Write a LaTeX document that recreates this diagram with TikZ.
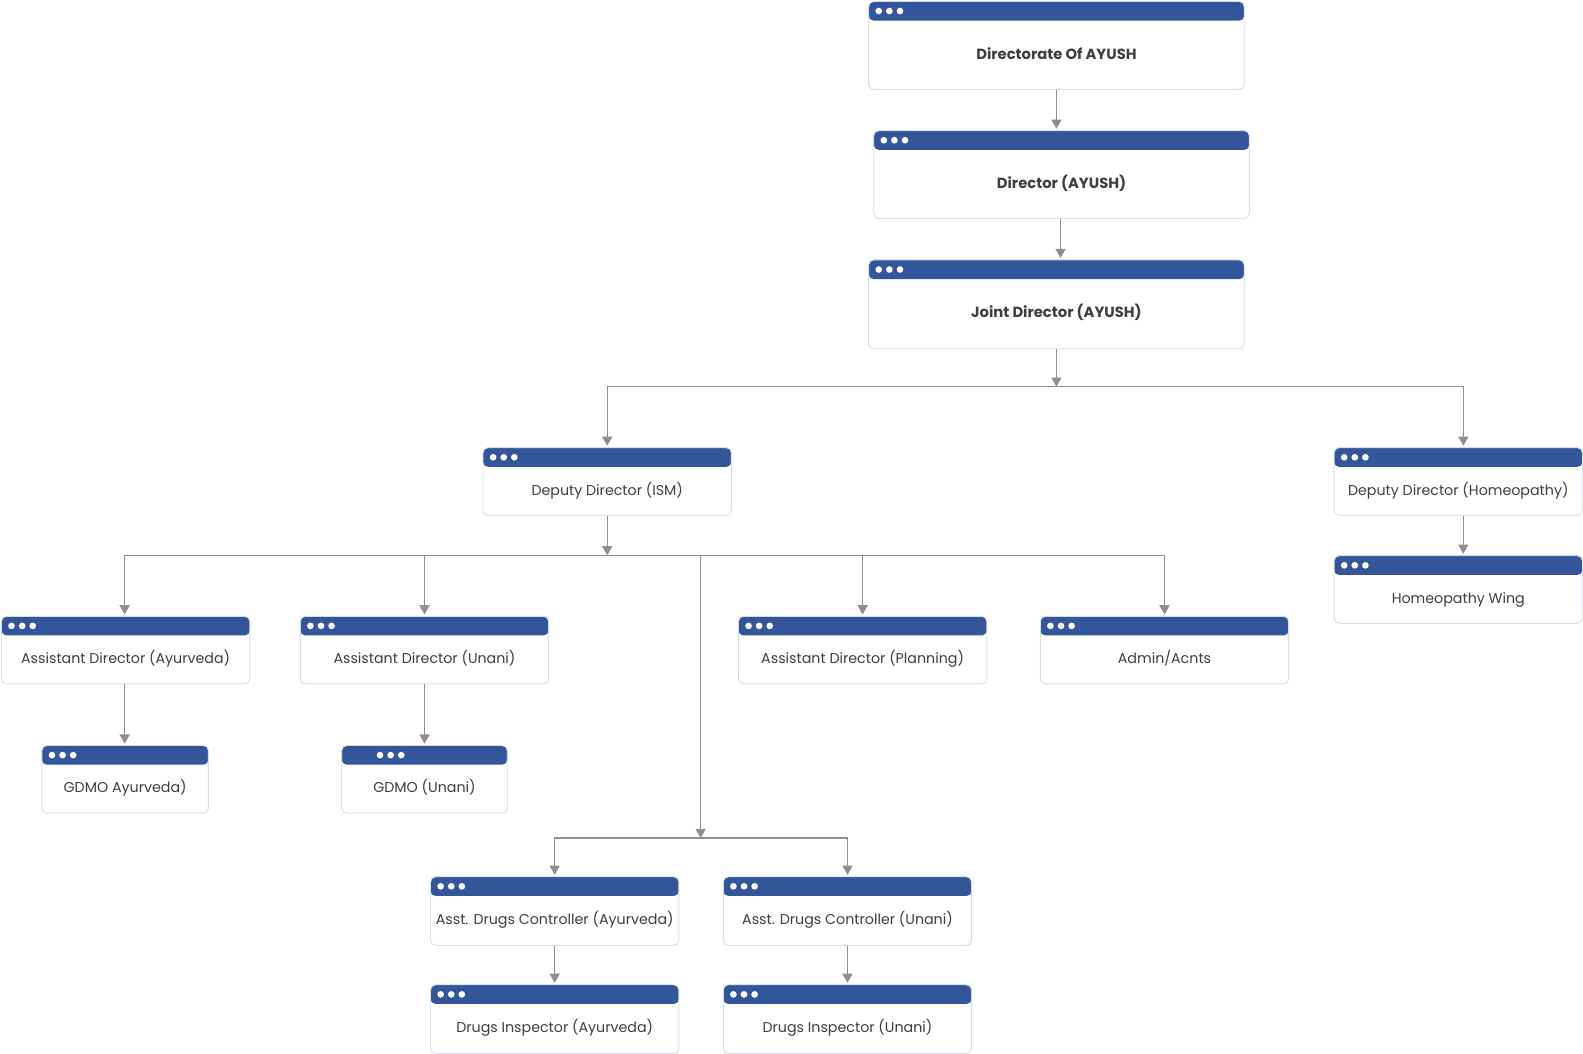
\documentclass[tikz,border=0pt]{standalone}
\usepackage{fontspec}
\setmainfont{Poppins}
\usetikzlibrary{arrows.meta}
\definecolor{hdr}{HTML}{33569A}
\definecolor{bord}{HTML}{D3DFEA}
\definecolor{txt}{HTML}{3E3E3E}
\definecolor{conn}{HTML}{8E8E8E}
\tikzset{
  dotoff/.store in=\dotoff, dotoff=10pt,
  card/.style={draw=bord, line width=0.9pt, rounded corners=5pt, fill=white,
    text=txt, font=\fontsize{14.1}{16}\selectfont, inner sep=0pt,
    minimum width=246pt, minimum height=67pt, text height=27pt, text depth=0pt,
    anchor=north west,
    path picture={
      \fill[hdr] (path picture bounding box.north west) rectangle ([yshift=-19pt]path picture bounding box.north east);
      \foreach \k in {0,1,2}
        \fill[white] ([xshift=\dotoff+\k*10.5pt, yshift=-9.5pt]path picture bounding box.north west) circle (3.3pt);
    }},
  topcard/.style={card, minimum width=372pt, minimum height=87pt, font=\fontsize{14.6}{16}\selectfont\bfseries},
  arr/.style={draw=conn, line width=1.1pt, -{Triangle[width=10pt,length=9pt]}, shorten >=1.5pt},
  arrc/.style={draw=conn, line width=1.1pt, -{Triangle[width=10pt,length=9pt]}}
}
\begin{document}
\begin{tikzpicture}[x=1pt,y=-1pt]
\useasboundingbox (0,0) rectangle (1568,1044);
\node[topcard] (dirA) at (860,1) {Directorate Of AYUSH};
\node[topcard] (dirB) at (865,129) {Director (AYUSH)};
\node[topcard, minimum height=88pt] (jd) at (860,257) {Joint Director (AYUSH)};
\node[card] (ddi) at (478,443) {Deputy Director (ISM)};
\node[card] (ddh) at (1321,443) {Deputy Director (Homeopathy)};
\node[card] (hw) at (1321,550) {Homeopathy Wing};
\node[card] (ada) at (1,610) {Assistant Director (Ayurveda)};
\node[card] (adu) at (297,610) {Assistant Director (Unani)};
\node[card] (adp) at (731,610) {Assistant Director (Planning)};
\node[card] (adm) at (1030,610) {Admin/Acnts};
\node[card, minimum width=165pt] (ga) at (41,738) {GDMO Ayurveda)};
\node[card, minimum width=164pt, dotoff=38pt] (gu) at (338,738) {GDMO (Unani)};
\node[card, minimum height=68pt] (dca) at (426,868) {Asst. Drugs Controller (Ayurveda)};
\node[card, minimum height=68pt] (dcu) at (716,868) {Asst. Drugs Controller (Unani)};
\node[card, minimum height=68pt] (dia) at (426,975) {Drugs Inspector (Ayurveda)};
\node[card, minimum height=68pt] (diu) at (716,975) {Drugs Inspector (Unani)};
% connectors
\coordinate (b1) at (jd.south |- 0,383);
\coordinate (b2) at (ddi.south |- 0,550);
\coordinate (b3) at (694,830);
\draw[arr] (dirA.south) -- (dirA.south |- dirB.north);
\draw[arr] ([xshift=-1pt]dirB.south) -- ([xshift=-1pt]dirB.south |- jd.north);
\draw[arr] (b1) -| (ddi.north);
\draw[arr] (b1) -| ([xshift=5pt]ddh.north);
\draw[arrc] (jd.south) -- (b1);
\draw[arr] ([xshift=5pt]ddh.south) -- ([xshift=5pt]hw.north);
\draw[arr] (b2) -| ([xshift=-1pt]ada.north);
\draw[arr] (b2) -| (adu.north);
\draw[arr] (b2) -| (adp.north);
\draw[arr] (b2) -| (adm.north);
\draw[arrc] (b2) -| (b3);
\draw[arrc] (ddi.south) -- (b2);
\draw[arr] ([xshift=-1pt]ada.south) -- ([xshift=-1pt]ada.south |- ga.north);
\draw[arr] (adu.south) -- (adu.south |- gu.north);
\draw[arr] (b3) -| (dca.north);
\draw[arr] (b3) -| (dcu.north);
\draw[arr] (dca.south) -- (dia.north);
\draw[arr] (dcu.south) -- (diu.north);
\end{tikzpicture}
\end{document}
